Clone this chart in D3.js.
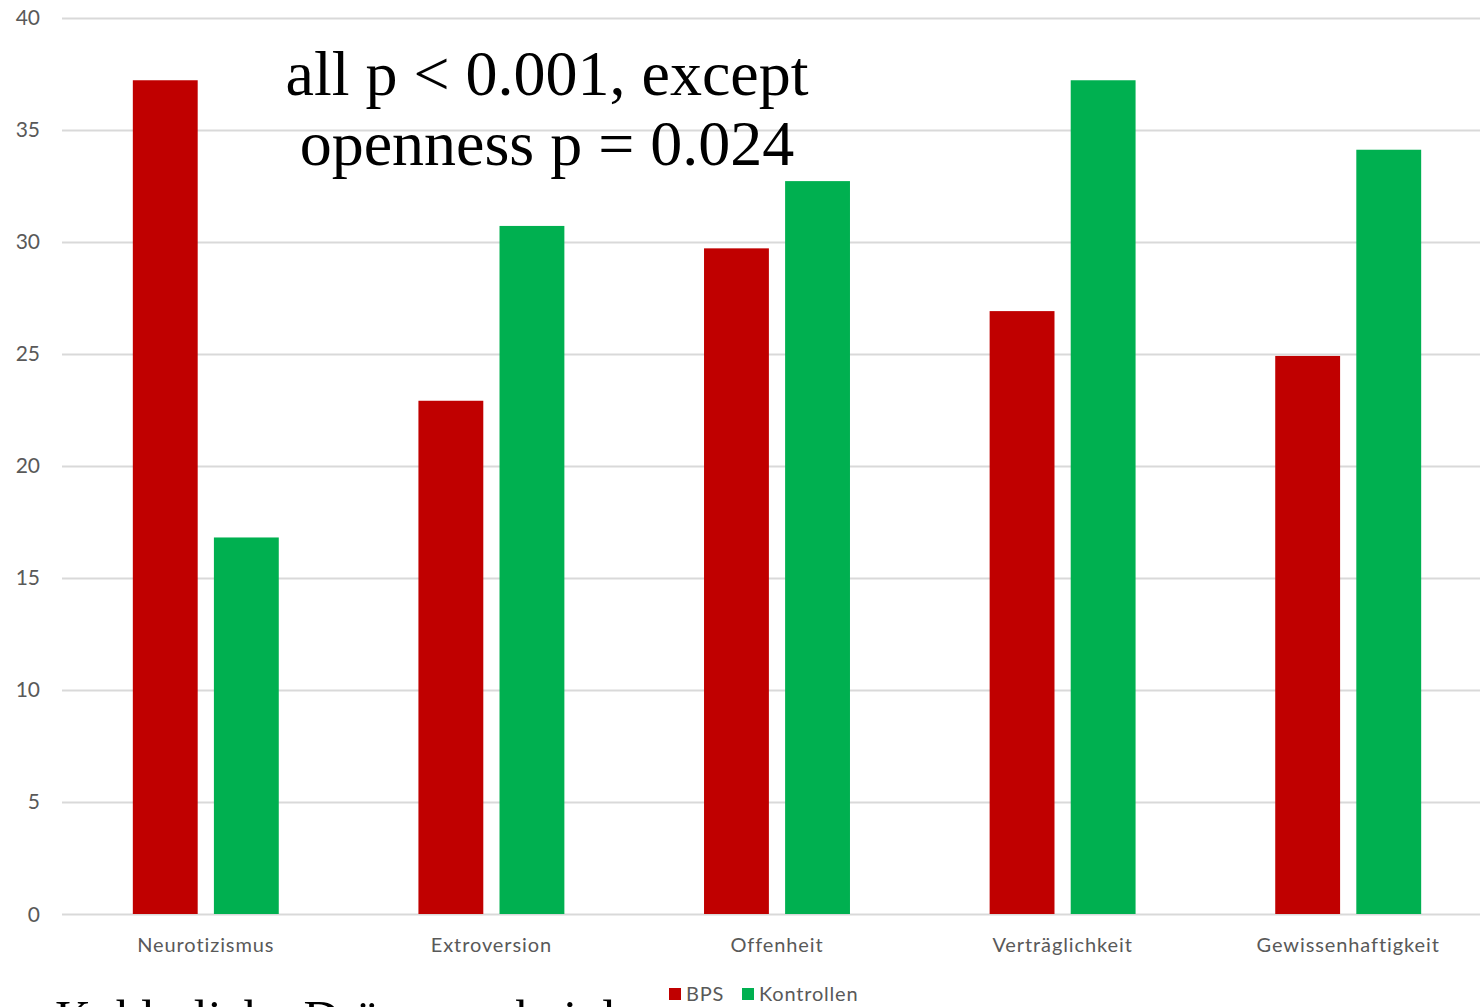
<!DOCTYPE html>
<html>
<head>
<meta charset="utf-8">
<script src="https://cdn.jsdelivr.net/npm/d3@7/dist/d3.min.js"></script>
<style>
  html, body { margin: 0; padding: 0; background: #ffffff; overflow: hidden; }
  svg { display: block; }
</style>
</head>
<body>
<svg id="chart" width="1480" height="1007"></svg>
<script>
// Big Five scores: BPS patients vs. controls
const categories = ["Neurotizismus", "Extroversion", "Offenheit", "Verträglichkeit", "Gewissenhaftigkeit"];
const seriesNames = ["BPS", "Kontrollen"];
const bpsValues = [37.2, 22.9, 29.7, 26.9, 24.9];
const kontrollenValues = [16.8, 30.7, 32.7, 37.2, 34.1];
const yTicks = [0, 5, 10, 15, 20, 25, 30, 35, 40];
const noteLines = ["all p < 0.001, except", "openness p = 0.024"];
const footerText = "Kohlerliche Drängung bei der";

const colors = { "BPS": "#c00000", "Kontrollen": "#00b050" };
const labelFont = "Lato, 'Open Sans', sans-serif";
const labelColor = "#595959";

const rows = categories.map((c, i) => ({
  category: c,
  values: [
    { series: "BPS", value: bpsValues[i] },
    { series: "Kontrollen", value: kontrollenValues[i] }
  ]
}));

const svg = d3.select("#chart");
const plot = { left: 63, right: 1491, top: 17.5, bottom: 914 };

const y = d3.scaleLinear().domain([0, 40]).range([plot.bottom, plot.top]);

const x0 = d3.scaleBand()
  .domain(categories)
  .range([plot.left, plot.right])
  .paddingInner(0.489)
  .paddingOuter(0.2445);

const x1 = d3.scaleBand()
  .domain(seriesNames)
  .range([0, x0.bandwidth()])
  .paddingInner(0.2);

// horizontal gridlines
svg.append("g")
  .selectAll("line")
  .data(yTicks)
  .join("line")
  .attr("x1", 62)
  .attr("x2", 1480)
  .attr("y1", d => Math.round(y(d)) + 0.5)
  .attr("y2", d => Math.round(y(d)) + 0.5)
  .attr("stroke", "#d9d9d9")
  .attr("stroke-width", 2);

// y axis labels
svg.append("g")
  .selectAll("text")
  .data(yTicks)
  .join("text")
  .attr("x", 40)
  .attr("y", d => y(d))
  .attr("dy", "0.36em")
  .attr("text-anchor", "end")
  .attr("font-family", labelFont)
  .attr("font-size", 21)
  .attr("fill", labelColor)
  .text(d => d);

// bars
const groups = svg.append("g")
  .selectAll("g")
  .data(rows)
  .join("g")
  .attr("transform", d => `translate(${x0(d.category)},0)`);

groups.selectAll("rect")
  .data(d => d.values)
  .join("rect")
  .attr("x", d => x1(d.series))
  .attr("width", x1.bandwidth())
  .attr("y", d => y(d.value))
  .attr("height", d => y(0) - y(d.value))
  .attr("fill", d => colors[d.series]);

// category labels
svg.append("g")
  .selectAll("text")
  .data(categories)
  .join("text")
  .attr("x", d => x0(d) + x0.bandwidth() / 2)
  .attr("y", 952)
  .attr("text-anchor", "middle")
  .attr("font-family", labelFont)
  .attr("font-size", 20)
  .attr("letter-spacing", 0.9)
  .attr("fill", labelColor)
  .text(d => d);

// significance note
svg.append("g")
  .selectAll("text")
  .data(noteLines)
  .join("text")
  .attr("x", 547)
  .attr("y", (d, i) => 95 + i * 70)
  .attr("text-anchor", "middle")
  .attr("font-family", "'Liberation Serif', 'Times New Roman', serif")
  .attr("font-size", 64)
  .attr("fill", "#000000")
  .text(d => d);

// footer line of the slide, running off the bottom edge
svg.append("text")
  .attr("x", 55)
  .attr("y", 1035)
  .attr("font-family", "'Liberation Serif', 'Times New Roman', serif")
  .attr("font-size", 50)
  .attr("fill", "#000000")
  .text(footerText);

// legend
const legend = svg.append("g").attr("transform", "translate(669,988)");
const legendOffsets = [0, 73];
const items = legend.selectAll("g")
  .data(seriesNames)
  .join("g")
  .attr("transform", (d, i) => `translate(${legendOffsets[i]},0)`);
items.append("rect")
  .attr("width", 12)
  .attr("height", 12)
  .attr("fill", d => colors[d]);
items.append("text")
  .attr("x", 17)
  .attr("y", 6)
  .attr("dy", "0.36em")
  .attr("font-family", labelFont)
  .attr("font-size", 20)
  .attr("letter-spacing", 0.8)
  .attr("fill", labelColor)
  .text(d => d);
</script>
</body>
</html>
